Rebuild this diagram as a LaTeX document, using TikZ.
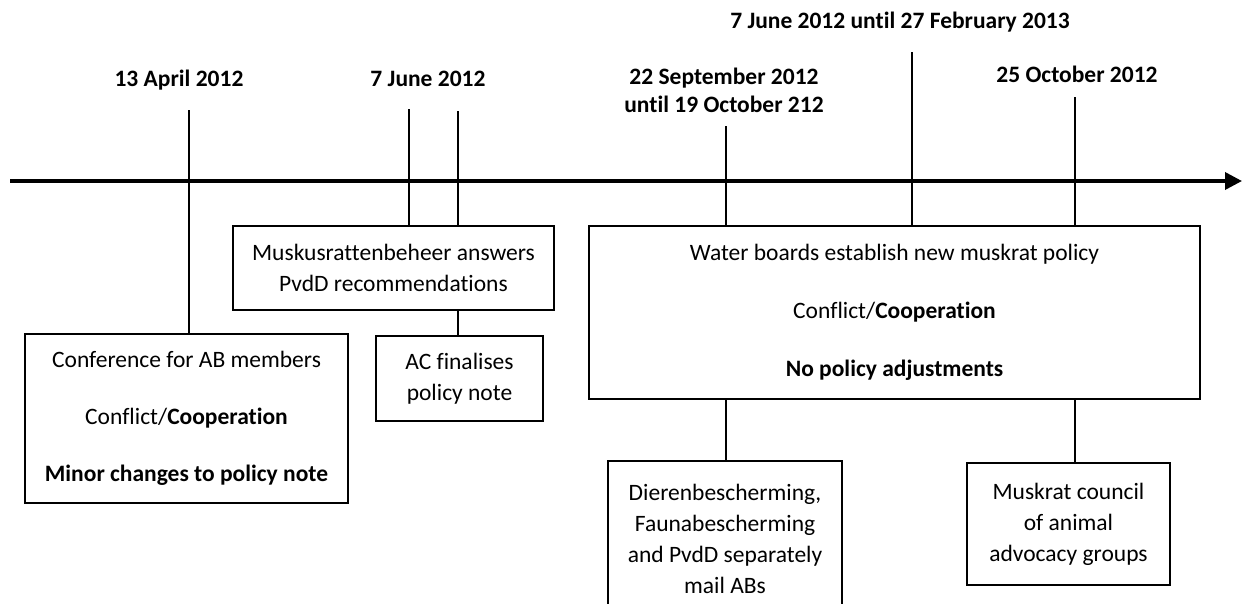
\documentclass[tikz,border=0pt]{standalone}
\usepackage{fontspec}
\setmainfont[Ligatures=NoCommon]{Carlito}
\usetikzlibrary{arrows.meta}
\begin{document}
\begin{tikzpicture}[x=1pt,y=-1pt,
  every node/.style={font=\fontsize{23.5}{31}\selectfont, inner sep=0pt},
  datelbl/.style={font=\fontsize{23.5}{28}\selectfont\bfseries, align=center, anchor=base},
  eventbox/.style={draw, line width=1.4pt, align=center, anchor=center},
  link/.style={line width=1.3pt},
  axis/.style={line width=3.5pt, -{Triangle[length=17pt,width=17pt]}}
]
\useasboundingbox (0,0) rectangle (1243,603);
\clip (0,0) rectangle (1243,603);

% event boxes
\node[eventbox, minimum width=323pt, minimum height=169pt] (conf) at (186.5,418.5)
  {Conference for AB members\\[26pt]Conflict/\textbf{Cooperation}\\[26pt]\textbf{Minor changes to policy note}};
\node[eventbox, minimum width=321pt, minimum height=84pt] (musk) at (393.5,268)
  {Muskusrattenbeheer answers\\PvdD recommendations};
\node[eventbox, minimum width=167pt, minimum height=85pt] (ac) at (459.5,378.5)
  {AC finalises\\policy note};
\node[eventbox, minimum width=611pt, minimum height=173pt] (water) at (894.5,312.5)
  {Water boards establish new muskrat policy\\[27pt]Conflict/\textbf{Cooperation}\\[27pt]\textbf{No policy adjustments}};
\node[eventbox, minimum width=234pt, minimum height=156pt] (dieren) at (725,539)
  {Dierenbescherming,\\Faunabescherming\\and PvdD separately\\mail ABs};
\node[eventbox, minimum width=203pt, minimum height=122pt] (council) at (1068.5,524)
  {Muskrat council\\of animal\\advocacy groups};

% date labels (placed by the baseline of their last line)
\node[datelbl] (lapr) at (179,86) {13 April 2012};
\node[datelbl] (ljun) at (428,86) {7 June 2012};
\node[datelbl] (lsep) at (724,112) {22 September 2012\\until 19 October 212};
\node[datelbl] (lfeb) at (900,28) {7 June 2012 until 27 February 2013};
\node[datelbl] (loct) at (1077,82) {25 October 2012};

% tops of the date markers
\coordinate (d1) at (189,110);
\coordinate (d2a) at (409,109);
\coordinate (d2b) at (458,111);
\coordinate (d3) at (726,126);
\coordinate (d4) at (912,52);
\coordinate (d5) at (1075,97);

\draw[link] (d1) -- (d1 |- conf.north);
\draw[link] (d2a) -- (d2a |- musk.north);
\draw[link] (d2b) -- (d2b |- musk.north);
\draw[link] (d3) -- (d3 |- water.north);
\draw[link] (d4) -- (d4 |- water.north);
\draw[link] (d5) -- (d5 |- water.north);

% box-to-box links
\draw[link] (d2b |- musk.south) -- (d2b |- ac.north);
\draw[link] (d3 |- water.south) -- (d3 |- dieren.north);
\draw[link] (d5 |- water.south) -- (d5 |- council.north);

% time axis
\coordinate (t0) at (10,181);
\coordinate (t1) at (1242,181);
\draw[axis] (t0) -- (t1);
\end{tikzpicture}
\end{document}
